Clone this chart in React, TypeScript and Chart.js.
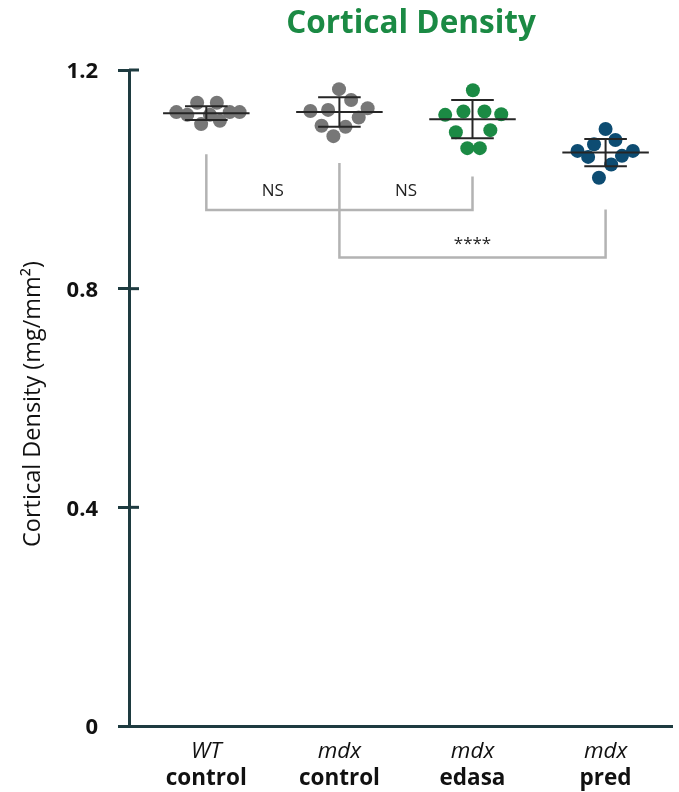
import React, { useEffect, useRef } from 'react';
import { Chart, registerables } from 'chart.js';

Chart.register(...registerables);

// ---- Data ----
const groupLine1 = ['WT', 'mdx', 'mdx', 'mdx'];
const groupLine2 = ['control', 'control', 'edasa', 'pred'];

const wtControlValues = [1.123, 1.118, 1.140, 1.101, 1.118, 1.140, 1.107, 1.123, 1.123];
const wtControlJitter = [-0.225, -0.143, -0.069, -0.039, 0.027, 0.079, 0.102, 0.176, 0.25];

const mdxControlValues = [1.165, 1.145, 1.125, 1.127, 1.130, 1.113, 1.098, 1.096, 1.079];
const mdxControlJitter = [-0.003, 0.088, -0.218, -0.085, 0.212, 0.145, -0.134, 0.046, -0.045];

const mdxEdasaValues = [1.163, 1.118, 1.124, 1.124, 1.119, 1.086, 1.090, 1.057, 1.057];
const mdxEdasaJitter = [0.003, -0.205, -0.068, 0.09, 0.216, -0.125, 0.134, -0.039, 0.055];

const mdxPredValues = [1.092, 1.072, 1.064, 1.052, 1.041, 1.043, 1.052, 1.027, 1.003];
const mdxPredJitter = [0, 0.074, -0.087, -0.211, -0.131, 0.123, 0.205, 0.042, -0.05];

const groupMeans = [1.121, 1.123, 1.110, 1.049];
const groupSD = [0.0125, 0.027, 0.035, 0.025];

const yTicks = [0, 0.4, 0.8, 1.2];

// significance brackets
const bracketFrom = [0, 1];
const bracketTo = [2, 3];
const bracketLeftTop = [1.046, 1.030];
const bracketRightTop = [1.005, 0.945];
const bracketBar = [0.944, 0.857];

// significance labels
const sigLabelX = [0.5, 1.5, 2.0];
const sigLabelY = [0.979, 0.979, 0.882];
const sigLabelText = ['NS', 'NS', '****'];

const titleText = 'Cortical Density';
const yTitleText = 'Cortical Density (mg/mm\u00B2)';

const AXIS = '#1e3b40';
const GRAY = '#777777';
const GREEN = '#1b8a44';
const BLUE = '#0d4c72';

const seriesValues = [wtControlValues, mdxControlValues, mdxEdasaValues, mdxPredValues];
const seriesJitter = [wtControlJitter, mdxControlJitter, mdxEdasaJitter, mdxPredJitter];
const seriesColors = [GRAY, GRAY, GREEN, BLUE];

const overlayPlugin = {
  id: 'overlay',
  afterDatasetsDraw(chart: any) {
    const { ctx, chartArea, scales } = chart;
    const xs = scales.x;
    const ys = scales.y;
    ctx.save();

    // error bars
    ctx.strokeStyle = '#262626';
    ctx.lineWidth = 2;
    groupMeans.forEach((m, i) => {
      const sd = groupSD[i];
      const xc = xs.getPixelForValue(i);
      const xm0 = xs.getPixelForValue(i - 0.325);
      const xm1 = xs.getPixelForValue(i + 0.325);
      const xc0 = xs.getPixelForValue(i - 0.16);
      const xc1 = xs.getPixelForValue(i + 0.16);
      const ym = ys.getPixelForValue(m);
      const yu = ys.getPixelForValue(m + sd);
      const yl = ys.getPixelForValue(m - sd);
      ctx.beginPath();
      ctx.moveTo(xm0, ym); ctx.lineTo(xm1, ym);
      ctx.moveTo(xc0, yu); ctx.lineTo(xc1, yu);
      ctx.moveTo(xc0, yl); ctx.lineTo(xc1, yl);
      ctx.moveTo(xc, yu); ctx.lineTo(xc, yl);
      ctx.stroke();
    });

    // brackets
    ctx.strokeStyle = '#b3b3b3';
    ctx.lineWidth = 2.5;
    ctx.lineJoin = 'miter';
    bracketFrom.forEach((f, i) => {
      const t = bracketTo[i];
      ctx.beginPath();
      ctx.moveTo(xs.getPixelForValue(f), ys.getPixelForValue(bracketLeftTop[i]));
      ctx.lineTo(xs.getPixelForValue(f), ys.getPixelForValue(bracketBar[i]));
      ctx.lineTo(xs.getPixelForValue(t), ys.getPixelForValue(bracketBar[i]));
      ctx.lineTo(xs.getPixelForValue(t), ys.getPixelForValue(bracketRightTop[i]));
      ctx.stroke();
    });

    // significance labels
    ctx.fillStyle = '#222222';
    ctx.font = '17px "Open Sans"';
    ctx.textAlign = 'center';
    ctx.textBaseline = 'middle';
    sigLabelText.forEach((txt, i) => {
      ctx.fillText(txt, xs.getPixelForValue(sigLabelX[i]), ys.getPixelForValue(sigLabelY[i]));
    });

    // inner halves of y ticks
    ctx.strokeStyle = AXIS;
    ctx.lineWidth = 3;
    yTicks.forEach((v) => {
      if (v === 0) return;
      const y = ys.getPixelForValue(v);
      ctx.beginPath();
      ctx.moveTo(chartArea.left, y);
      ctx.lineTo(chartArea.left + 10, y);
      ctx.stroke();
    });

    // category labels
    ctx.fillStyle = '#111111';
    ctx.textAlign = 'center';
    ctx.textBaseline = 'alphabetic';
    groupLine1.forEach((l1, i) => {
      const x = xs.getPixelForValue(i);
      ctx.font = 'italic 22.5px "Open Sans"';
      ctx.fillText(l1, x, chartArea.bottom + 32);
      ctx.font = 'bold 22.5px "Open Sans"';
      ctx.fillText(groupLine2[i], x, chartArea.bottom + 59);
    });

    // y axis title
    ctx.save();
    ctx.translate(33, (chartArea.top + chartArea.bottom) / 2 + 6);
    ctx.rotate(-Math.PI / 2);
    ctx.font = '23.5px "Open Sans"';
    ctx.textAlign = 'center';
    ctx.textBaseline = 'middle';
    ctx.fillStyle = '#111111';
    ctx.fillText(yTitleText, 0, 0);
    ctx.restore();

    // main title
    ctx.font = 'bold 31.5px "Open Sans"';
    ctx.fillStyle = GREEN;
    ctx.textAlign = 'center';
    ctx.textBaseline = 'alphabetic';
    ctx.fillText(titleText, 411, 33);

    ctx.restore();
  },
};

export default function App() {
  const canvasRef = useRef<HTMLCanvasElement | null>(null);

  useEffect(() => {
    document.body.style.margin = '0';
    const canvas = canvasRef.current;
    if (!canvas) return;
    const datasets = seriesValues.map((vals, i) => ({
      label: groupLine1[i] + ' ' + groupLine2[i],
      data: vals.map((v, j) => ({ x: i + seriesJitter[i][j], y: v })),
      backgroundColor: seriesColors[i],
      borderWidth: 0,
      pointRadius: 7,
      pointHoverRadius: 7,
      showLine: false,
    }));
    const chart = new Chart(canvas, {
      type: 'scatter',
      data: { datasets },
      options: {
        animation: false,
        responsive: false,
        devicePixelRatio: 1,
        layout: { padding: { top: 70, left: 0, right: 0, bottom: 0 } },
        plugins: { legend: { display: false }, tooltip: { enabled: false }, title: { display: false } },
        scales: {
          x: {
            type: 'linear',
            min: -0.581,
            max: 3.499,
            grid: { display: false },
            ticks: { display: false },
            border: { display: true, color: AXIS, width: 3 },
            afterFit: (scale: any) => { scale.height = 66; },
          },
          y: {
            type: 'linear',
            min: 0,
            max: 1.2,
            afterBuildTicks: (scale: any) => { scale.ticks = yTicks.map((v) => ({ value: v })); },
            ticks: {
              padding: 20,
              labelOffset: 2,
              color: '#111111',
              font: { family: 'Open Sans', size: 22, weight: 'bold' },
              callback: (v: any) => (v === 0 ? '0' : Number(v).toFixed(1)),
            },
            grid: { drawOnChartArea: false, drawTicks: true, tickLength: 11, tickWidth: 3, tickColor: AXIS },
            border: { display: true, color: AXIS, width: 3 },
            afterFit: (scale: any) => { scale.width = 129; },
          },
        },
      },
      plugins: [overlayPlugin],
    });
    return () => chart.destroy();
  }, []);

  return (
    <div style={{ width: 679, height: 792 }}>
      <canvas ref={canvasRef} width={679} height={792} style={{ display: 'block', width: 679, height: 792 }} />
    </div>
  );
}
